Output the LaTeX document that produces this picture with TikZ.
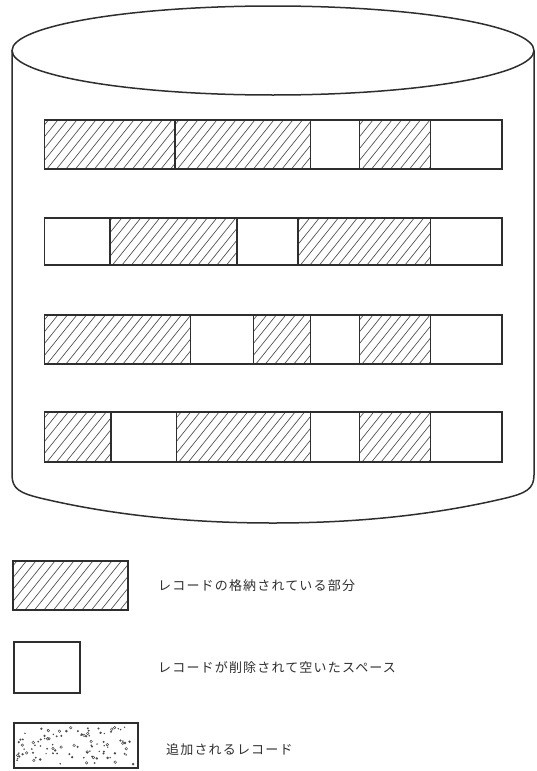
\documentclass[tikz,border=0pt]{standalone}
\usepackage{fontspec}
\newfontfamily\jpfont[LetterSpace=9]{Noto Sans CJK JP}
\definecolor{ink}{HTML}{2E2E2E}
\definecolor{hatchink}{HTML}{4A4A4A}
\tikzset{
  cylln/.style={draw=ink, line width=1.5pt},
  cellln/.style={draw=ink, line width=1.2pt},
  hatchln/.style={draw=hatchink, line width=0.65pt},
  legtext/.style={anchor=west, inner sep=0pt, text=ink, font=\jpfont\fontsize{13}{15}\selectfont},
}
\newcommand\mkhatch[4]{%
  \begin{scope}
    \clip (#1,#2) rectangle (#3,#4);
    \foreach \k in {0,...,22}{\draw[hatchln] ({#1-45+\k*9.5},#4) -- ++(45,-56);}
  \end{scope}
  \draw[cellln] (#1,#2) rectangle (#3,#4);}
\newcommand\mkblank[4]{\draw[cellln] (#1,#2) rectangle (#3,#4);}
\begin{document}
\begin{tikzpicture}[x=1pt,y=-1pt]
\useasboundingbox (0,0) rectangle (537,771);
% cylinder
\draw[cylln] (12,50.5) -- (12,475)
  .. controls (12,489) and (20,493) .. (40,498)
  .. controls (120,517) and (200,523) .. (273,523)
  .. controls (346,523) and (426,517) .. (506,498)
  .. controls (526,493) and (534,489) .. (534,475) -- (534,50.5);
\draw[cylln, fill=white] (273,50.5) ellipse [x radius=261pt, y radius=44.5pt];
% row 1
\mkhatch{44.5}{120}{175}{169}
\mkhatch{175}{120}{310.6}{169}
\mkblank{310.6}{120}{359.6}{169}
\mkhatch{359.6}{120}{430.5}{169}
\mkblank{430.5}{120}{502}{169}
% row 2
\mkblank{44.5}{218}{110}{265}
\mkhatch{110}{218}{237}{265}
\mkblank{237}{218}{298}{265}
\mkhatch{298}{218}{430.5}{265}
\mkblank{430.5}{218}{502}{265}
% row 3
\mkhatch{44.5}{315}{190.8}{364}
\mkblank{190.8}{315}{253.4}{364}
\mkhatch{253.4}{315}{310.6}{364}
\mkblank{310.6}{315}{359.6}{364}
\mkhatch{359.6}{315}{430.5}{364}
\mkblank{430.5}{315}{502}{364}
% row 4
\mkhatch{44.5}{412}{111}{462}
\mkblank{111}{412}{176.4}{462}
\mkhatch{176.4}{412}{310.6}{462}
\mkblank{310.6}{412}{359.6}{462}
\mkhatch{359.6}{412}{430.5}{462}
\mkblank{430.5}{412}{502}{462}
% legend
\mkhatch{13}{561}{128}{610}
\node[legtext] (l1) at (158,586) {レコードの格納されている部分};
\mkblank{14}{642}{80}{693}
\node[legtext] (l2) at (158,668) {レコードが削除されて空いたスペース};
\begin{scope}
  \clip (14,723) rectangle (138,768);
  \pgfmathsetseed{11}
  \foreach \i in {1,...,75}{
    \pgfmathsetmacro\dx{17+rnd*118}
    \pgfmathsetmacro\dy{727+rnd*38}
    \pgfmathsetmacro\dr{0.7+0.7*rnd}
    \fill[hatchink] (\dx,\dy) circle [radius=\dr pt];
  }
  \foreach \i in {1,...,25}{
    \pgfmathsetmacro\dx{17+rnd*118}
    \pgfmathsetmacro\dy{727+rnd*38}
    \draw[hatchink, line width=0.5pt] (\dx,\dy) circle [radius=1.3pt];
  }
\end{scope}
\draw[cellln] (14,723) rectangle (138,768);
\node[legtext] (l3) at (166,750) {追加されるレコード};
\end{tikzpicture}
\end{document}
